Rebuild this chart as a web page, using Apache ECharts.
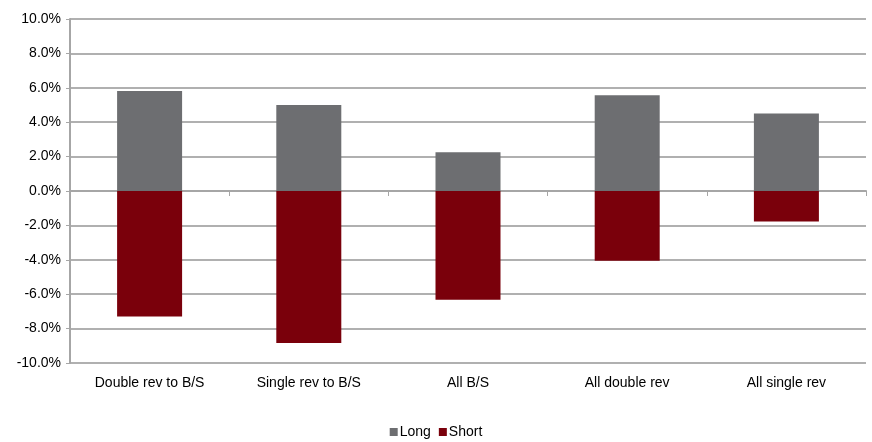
<!DOCTYPE html>
<html>
<head>
<meta charset="utf-8">
<script src="https://cdn.jsdelivr.net/npm/echarts@6/dist/echarts.min.js"></script>
<style>
html, body { margin: 0; padding: 0; background: #fff; }
#chart { width: 872px; height: 442px; }
</style>
</head>
<body>
<div id="chart"></div>
<script>
// Strategy categories and returns (percent)
var categories = ['Double rev to B/S', 'Single rev to B/S', 'All B/S', 'All double rev', 'All single rev'];
var longReturns = [5.82, 5.0, 2.25, 5.57, 4.5];
var shortReturns = [-7.29, -8.83, -6.32, -4.05, -1.78];
var seriesNames = ['Long', 'Short'];

var chart = echarts.init(document.getElementById('chart'));
var font = 'Liberation Sans, Arial, sans-serif';

chart.setOption({
  animation: false,
  textStyle: { fontFamily: font },
  grid: { left: 70, right: 6, top: 19, bottom: 79 },
  legend: {
    data: seriesNames,
    bottom: -2,
    left: 'center',
    itemWidth: 8,
    itemHeight: 8,
    itemGap: 8,
    icon: 'rect',
    textStyle: { fontFamily: font, fontSize: 14, color: '#000', padding: [0, 0, 0, -3] }
  },
  xAxis: [
    {
      // zero line with category boundary ticks
      type: 'category',
      data: categories,
      axisLine: { show: true, onZero: true, lineStyle: { color: '#a6a6a6', width: 2 } },
      axisTick: { show: true, length: 5, lineStyle: { color: '#a6a6a6', width: 1 } },
      axisLabel: { show: false }
    },
    {
      // category labels along the bottom
      type: 'category',
      data: categories,
      position: 'bottom',
      axisLine: { show: false, onZero: false },
      axisTick: { show: false },
      axisLabel: { fontFamily: font, fontSize: 14, color: '#000', margin: 13 }
    }
  ],
  yAxis: {
    type: 'value',
    min: -10,
    max: 10,
    interval: 2,
    axisLine: { show: true, lineStyle: { color: '#a6a6a6', width: 2 } },
    axisTick: { show: true, length: 4, lineStyle: { color: '#a6a6a6' } },
    splitLine: { show: true, lineStyle: { color: '#b0b0b0', width: 2 } },
    axisLabel: {
      fontFamily: font, fontSize: 14, color: '#000', margin: 9,
      formatter: function (v) { return v.toFixed(1) + '%'; }
    }
  },
  series: [
    {
      name: seriesNames[0],
      type: 'bar',
      stack: 'total',
      xAxisIndex: 0,
      data: longReturns,
      barWidth: 65,
      itemStyle: { color: '#6d6e71' }
    },
    {
      name: seriesNames[1],
      type: 'bar',
      stack: 'total',
      xAxisIndex: 0,
      data: shortReturns,
      barWidth: 65,
      itemStyle: { color: '#7a000b' }
    }
  ]
});
</script>
</body>
</html>
